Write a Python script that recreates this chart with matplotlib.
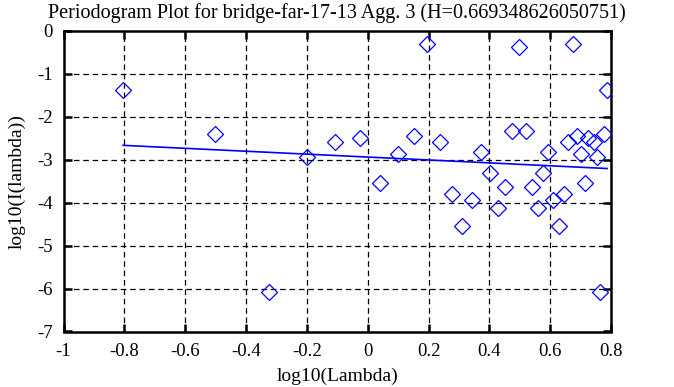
import matplotlib
matplotlib.use('Agg')
from matplotlib import pyplot as plt

# periodogram points, log10(Lambda) vs log10(I(lambda))
log_lambda = [-0.804, -0.503, -0.326, -0.201, -0.107, -0.025, 0.041, 0.099, 0.151, 0.196,
              0.237, 0.276, 0.311, 0.342, 0.373, 0.401, 0.427, 0.450, 0.475, 0.496,
              0.519, 0.539, 0.559, 0.576, 0.593, 0.610, 0.629, 0.644, 0.659, 0.674,
              0.688, 0.702, 0.715, 0.726, 0.743, 0.754, 0.764, 0.777, 0.787]
log_i = [-1.37, -2.40, -6.09, -2.94, -2.58, -2.50, -3.54, -2.87, -2.44, -0.30,
         -2.60, -3.81, -4.54, -3.95, -2.82, -3.32, -4.12, -3.64, -2.33, -0.37,
         -2.33, -3.64, -4.12, -3.30, -2.82, -3.95, -4.54, -3.81, -2.59, -0.30,
         -2.44, -2.86, -3.54, -2.49, -2.60, -2.94, -6.08, -2.40, -1.38]

# least squares fit line endpoints
fit_x = [-0.804, 0.787]
fit_y = [-2.668, -3.207]

x_ticks = [-1, -0.8, -0.6, -0.4, -0.2, 0, 0.2, 0.4, 0.6, 0.8]
x_tick_labels = ['-1', '-0.8', '-0.6', '-0.4', '-0.2', '0', '0.2', '0.4', '0.6', '0.8']
y_ticks = [-7, -6, -5, -4, -3, -2, -1, 0]

plt.rcParams['font.family'] = ['Liberation Serif', 'DejaVu Serif']
plt.rcParams['axes.unicode_minus'] = False

fig = plt.figure(figsize=(6.74, 3.87), dpi=100)
W, H = 674, 387
ax = fig.add_axes([63.5 / W, 1 - 331.5 / H, (611 - 63.5) / W, (331.5 - 30.7) / H])

ax.plot(log_lambda, log_i, linestyle='none', marker='D', markersize=7.8,
        markerfacecolor='none', markeredgecolor='#0000ff', markeredgewidth=0.9, zorder=3)
ax.plot(fit_x, fit_y, color='#0000ff', linewidth=1.2, zorder=3)

ax.set_xlim(-1, 0.8)
ax.set_ylim(-7, 0)
ax.set_xticks(x_ticks)
ax.set_xticklabels(x_tick_labels)
ax.set_yticks(y_ticks)

for x in x_ticks[1:-1]:
    ax.axvline(x, color='black', linestyle=(0, (4.5, 3)), linewidth=0.9, zorder=1)
for y in y_ticks[1:-1]:
    ax.axhline(y, color='black', linestyle=(0, (4.5, 3)), linewidth=0.9, zorder=1)

for s in ax.spines.values():
    s.set_linewidth(1.8)
ax.tick_params(direction='in', length=6, width=1.8, top=True, right=True,
               labelsize=13.5, pad=8)

ax.set_title('Periodogram Plot for bridge-far-17-13 Agg. 3 (H=0.669348626050751)',
             fontsize=14.5, pad=9)
ax.set_xlabel('log10(Lambda)', fontsize=14, labelpad=6)
ax.set_ylabel('log10(I(lambda))', fontsize=14, labelpad=8)

fig.savefig('out.png', dpi=100)
